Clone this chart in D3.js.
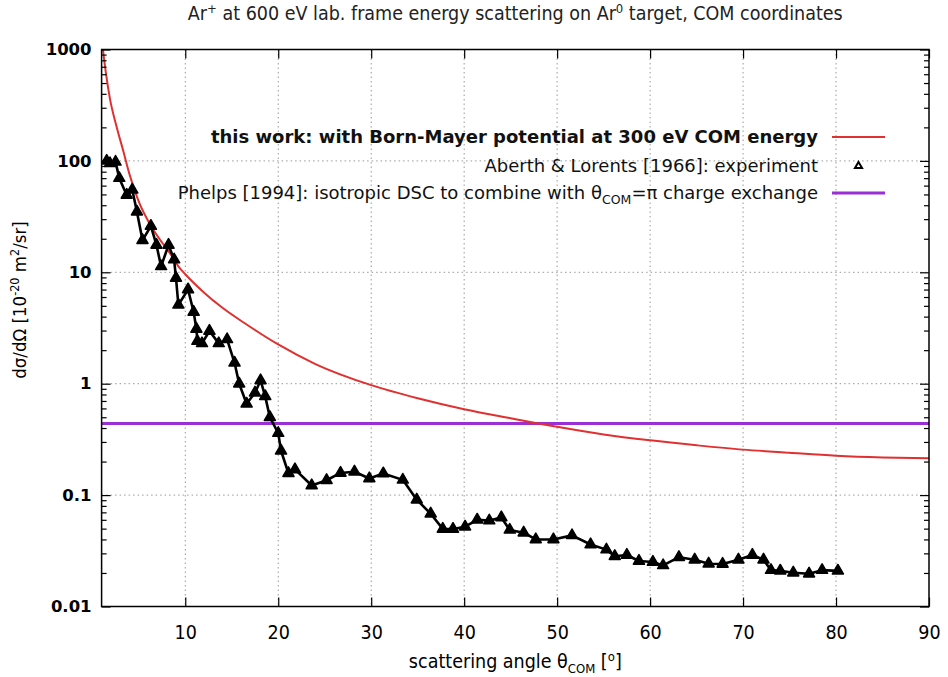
<!DOCTYPE html>
<html>
<head>
<meta charset="utf-8">
<script src="https://cdn.jsdelivr.net/npm/d3@7"></script>
<style>
  html, body { margin: 0; padding: 0; background: #fff; }
  svg { display: block; }
  .cond { font-family: "DejaVu Sans Condensed", "DejaVu Sans", sans-serif; font-stretch: condensed; }
  .reg { font-family: "DejaVu Sans", sans-serif; }
  .bold { font-family: "DejaVu Sans", sans-serif; font-weight: bold; }
</style>
</head>
<body>
<script>
// Born-Mayer model differential cross section (10^-20 m^2/sr) vs COM angle (deg)
const modelAngle = [1.0, 1.15, 1.47, 1.9, 2.6, 3.34, 4.0, 5.0, 6.2, 7.5, 8.2, 9.3, 10, 12, 14, 16.6, 20, 24, 30,
  35, 40, 45, 50, 55, 60, 65, 70, 75, 80, 85, 90];
const modelDSC = [1350, 1000, 611, 360, 205, 122, 76, 43, 27, 18.5, 15.5, 11.2, 9.6, 6.6, 4.8, 3.4, 2.25, 1.5, 0.97,
  0.74, 0.59, 0.49, 0.41, 0.35, 0.31, 0.28, 0.256, 0.24, 0.226, 0.218, 0.214];

// Aberth & Lorents (1966) measured points
const expAngle = [1.55, 1.9, 2.5, 2.9, 3.7, 4.3, 4.8, 5.4, 6.3, 6.9, 7.4, 8.2, 8.8, 9.0, 9.26, 10.3, 10.9, 11.2, 11.3, 11.8,
  12.6, 13.6, 14.5, 15.3, 15.8, 16.6, 17.5, 18.1, 18.6, 19.1, 20.0, 20.3, 21.1, 21.8, 23.6, 25.2, 26.7, 28.2, 29.8, 31.3,
  33.4, 34.9, 36.4, 37.7, 38.8, 40.1, 41.4, 42.7, 44.0, 44.9, 46.4, 47.7, 49.6, 51.6, 53.6, 55.3, 56.2, 57.5, 58.8, 60.3,
  61.4, 63.1, 64.8, 66.3, 67.8, 69.5, 71.0, 72.2, 73.0, 74.0, 75.4, 77.1, 78.5, 80.2];
const expDSC = [100, 95, 98, 70, 49.5, 55, 35, 19.4, 26, 17.6, 11.3, 17.6, 13, 8.9, 5.1, 7.0, 4.4, 3.1, 2.41, 2.3,
  2.97, 2.3, 2.5, 1.54, 1.0, 0.66, 0.83, 1.07, 0.77, 0.50, 0.36, 0.25, 0.157, 0.17, 0.122, 0.136, 0.158, 0.162, 0.141, 0.156,
  0.137, 0.091, 0.068, 0.0497, 0.0497, 0.052, 0.060, 0.059, 0.063, 0.0487, 0.046, 0.040, 0.040, 0.0435, 0.036, 0.0324, 0.0283, 0.029, 0.0256, 0.0251,
  0.0234, 0.0277, 0.0263, 0.0242, 0.0241, 0.0263, 0.029, 0.0263, 0.0212, 0.0209, 0.0201, 0.0197, 0.0212, 0.0209];

// Phelps isotropic cross section (constant)
const phelpsDSC = 0.44;

const xTicks = [10, 20, 30, 40, 50, 60, 70, 80, 90];
const yTicks = [0.01, 0.1, 1, 10, 100, 1000];
const yTickLabels = ["0.01", "0.1", "1", "10", "100", "1000"];

const W = 948, H = 677;
const L = 101.6, R = 929, T = 49.5, B = 606.5;

const svg = d3.select("body").append("svg").attr("width", W).attr("height", H);

const x = d3.scaleLinear().domain([1, 90]).range([L, R]);
const y = d3.scaleLog().domain([0.01, 1000]).range([B, T]);

// grid
const grid = svg.append("g").attr("stroke", "#999").attr("stroke-width", 1).attr("stroke-dasharray", "1.5,3");
grid.selectAll("line.vx").data(xTicks.filter(v => v < 90)).join("line")
  .attr("x1", d => x(d)).attr("x2", d => x(d)).attr("y1", T).attr("y2", B);
grid.selectAll("line.hy").data(yTicks.filter(v => v > 0.01 && v < 1000)).join("line")
  .attr("x1", L).attr("x2", R).attr("y1", d => y(d)).attr("y2", d => y(d));

svg.append("clipPath").attr("id", "plotclip").append("rect")
  .attr("x", L).attr("y", T).attr("width", R - L).attr("height", B - T);

const plot = svg.append("g").attr("clip-path", "url(#plotclip)");

// Phelps constant line
plot.append("line")
  .attr("x1", L).attr("x2", R).attr("y1", y(phelpsDSC)).attr("y2", y(phelpsDSC))
  .attr("stroke", "#9a2fd6").attr("stroke-width", 3);

// model curve
const modelData = modelAngle.map((a, i) => [a, modelDSC[i]]);
plot.append("path").datum(modelData)
  .attr("fill", "none").attr("stroke", "#e03030").attr("stroke-width", 2)
  .attr("d", d3.line().x(d => x(d[0])).y(d => y(d[1])).curve(d3.curveMonotoneX));

// experiment
const expData = expAngle.map((a, i) => [a, expDSC[i]]);
plot.append("path").datum(expData)
  .attr("fill", "none").attr("stroke", "#000").attr("stroke-width", 2.6)
  .attr("stroke-linejoin", "round")
  .attr("d", d3.line().x(d => x(d[0])).y(d => y(d[1])));

const tri = d3.symbol().type(d3.symbolTriangle).size(52);
plot.selectAll("path.pt").data(expData).join("path")
  .attr("class", "pt")
  .attr("transform", d => `translate(${x(d[0])},${y(d[1])})`)
  .attr("d", tri)
  .attr("fill", "#000").attr("stroke", "#000").attr("stroke-width", 1.6)
  .attr("stroke-linejoin", "round");

// axes (ticks point inward)
const minor = [];
for (let e = -2; e < 3; e++) for (let m = 2; m <= 9; m++) minor.push(m * Math.pow(10, e));

function styleAxis(g) {
  g.select(".domain").remove();
  g.selectAll(".tick line").attr("stroke", "#000").attr("stroke-width", 1.2);
}

svg.append("g").attr("transform", `translate(${L},0)`)
  .call(d3.axisLeft(y).tickValues(yTicks).tickSize(-9).tickPadding(10)
    .tickFormat((d, i) => yTickLabels[i]))
  .call(styleAxis)
  .call(g => g.selectAll("text").attr("class", "bold").attr("font-size", 16.5).attr("fill", "#000"));
svg.append("g").attr("transform", `translate(${L},0)`)
  .call(d3.axisLeft(y).tickValues(minor).tickSize(-5).tickFormat(""))
  .call(styleAxis);
svg.append("g").attr("transform", `translate(${R},0)`)
  .call(d3.axisRight(y).tickValues(yTicks).tickSize(-9).tickFormat(""))
  .call(styleAxis);
svg.append("g").attr("transform", `translate(${R},0)`)
  .call(d3.axisRight(y).tickValues(minor).tickSize(-5).tickFormat(""))
  .call(styleAxis);
svg.append("g").attr("transform", `translate(0,${B})`)
  .call(d3.axisBottom(x).tickValues(xTicks).tickSize(-9).tickPadding(19))
  .call(styleAxis)
  .call(g => g.selectAll("text").attr("class", "cond").attr("font-size", 19.5).attr("fill", "#000"));
svg.append("g").attr("transform", `translate(0,${T})`)
  .call(d3.axisTop(x).tickValues(xTicks).tickSize(-9).tickFormat(""))
  .call(styleAxis);

// frame
svg.append("rect").attr("x", L).attr("y", T).attr("width", R - L).attr("height", B - T)
  .attr("fill", "none").attr("stroke", "#000").attr("stroke-width", 1.5);

// title
const title = svg.append("text").attr("class", "cond").attr("font-size", 19.5)
  .attr("x", (L + R) / 2).attr("y", 20).attr("text-anchor", "middle").attr("fill", "#222");
title.append("tspan").text("Ar");
title.append("tspan").text("+").attr("font-size", 13).attr("dy", -7);
title.append("tspan").text(" at 600 eV lab. frame energy scattering on Ar").attr("dy", 7);
title.append("tspan").text("0").attr("font-size", 13).attr("dy", -7);
title.append("tspan").text(" target, COM coordinates").attr("dy", 7);

// x label
const xl = svg.append("text").attr("class", "cond").attr("font-size", 19.5)
  .attr("x", (L + R) / 2).attr("y", 668).attr("text-anchor", "middle").attr("fill", "#000");
xl.append("tspan").text("scattering angle θ");
xl.append("tspan").text("COM").attr("font-size", 13).attr("dy", 5);
xl.append("tspan").text(" [").attr("dy", -5);
xl.append("tspan").text("o").attr("font-size", 13).attr("dy", -7);
xl.append("tspan").text("]").attr("dy", 7);

// y label
const yl = svg.append("text").attr("class", "cond").attr("font-size", 18.5)
  .attr("transform", "translate(26,300) rotate(-90)").attr("text-anchor", "middle").attr("fill", "#000");
yl.append("tspan").text("dσ/dΩ [10");
yl.append("tspan").text("-20").attr("font-size", 12.5).attr("dy", -7);
yl.append("tspan").text(" m").attr("dy", 7);
yl.append("tspan").text("2").attr("font-size", 12.5).attr("dy", -7);
yl.append("tspan").text("/sr]").attr("dy", 7);

// legend
const lx = 818, s1 = 832, s2 = 885;
const r1 = 137, r2 = 166, r3 = 193;
svg.append("text").attr("class", "bold").attr("font-size", 18).attr("x", lx).attr("y", r1)
  .attr("dy", "0.35em").attr("text-anchor", "end").attr("fill", "#111")
  .text("this work: with Born-Mayer potential at 300 eV COM energy");
svg.append("line").attr("x1", s1).attr("x2", s2).attr("y1", r1).attr("y2", r1)
  .attr("stroke", "#e03030").attr("stroke-width", 2);

svg.append("text").attr("class", "reg").attr("font-size", 18).attr("x", lx).attr("y", r2)
  .attr("dy", "0.35em").attr("text-anchor", "end").attr("fill", "#111")
  .text("Aberth & Lorents [1966]: experiment");
svg.append("path").attr("transform", `translate(${(s1 + s2) / 2},${r2})`)
  .attr("d", d3.symbol().type(d3.symbolTriangle).size(22))
  .attr("fill", "#fff").attr("stroke", "#000").attr("stroke-width", 2);

const t3 = svg.append("text").attr("class", "reg").attr("font-size", 18).attr("x", lx).attr("y", r3)
  .attr("dy", "0.35em").attr("text-anchor", "end").attr("fill", "#111");
t3.append("tspan").text("Phelps [1994]: isotropic DSC to combine with θ");
t3.append("tspan").text("COM").attr("font-size", 12.5).attr("dy", 5);
t3.append("tspan").text("=π charge exchange").attr("dy", -5);
svg.append("line").attr("x1", s1).attr("x2", s2).attr("y1", r3).attr("y2", r3)
  .attr("stroke", "#9a2fd6").attr("stroke-width", 3);
</script>
</body>
</html>
